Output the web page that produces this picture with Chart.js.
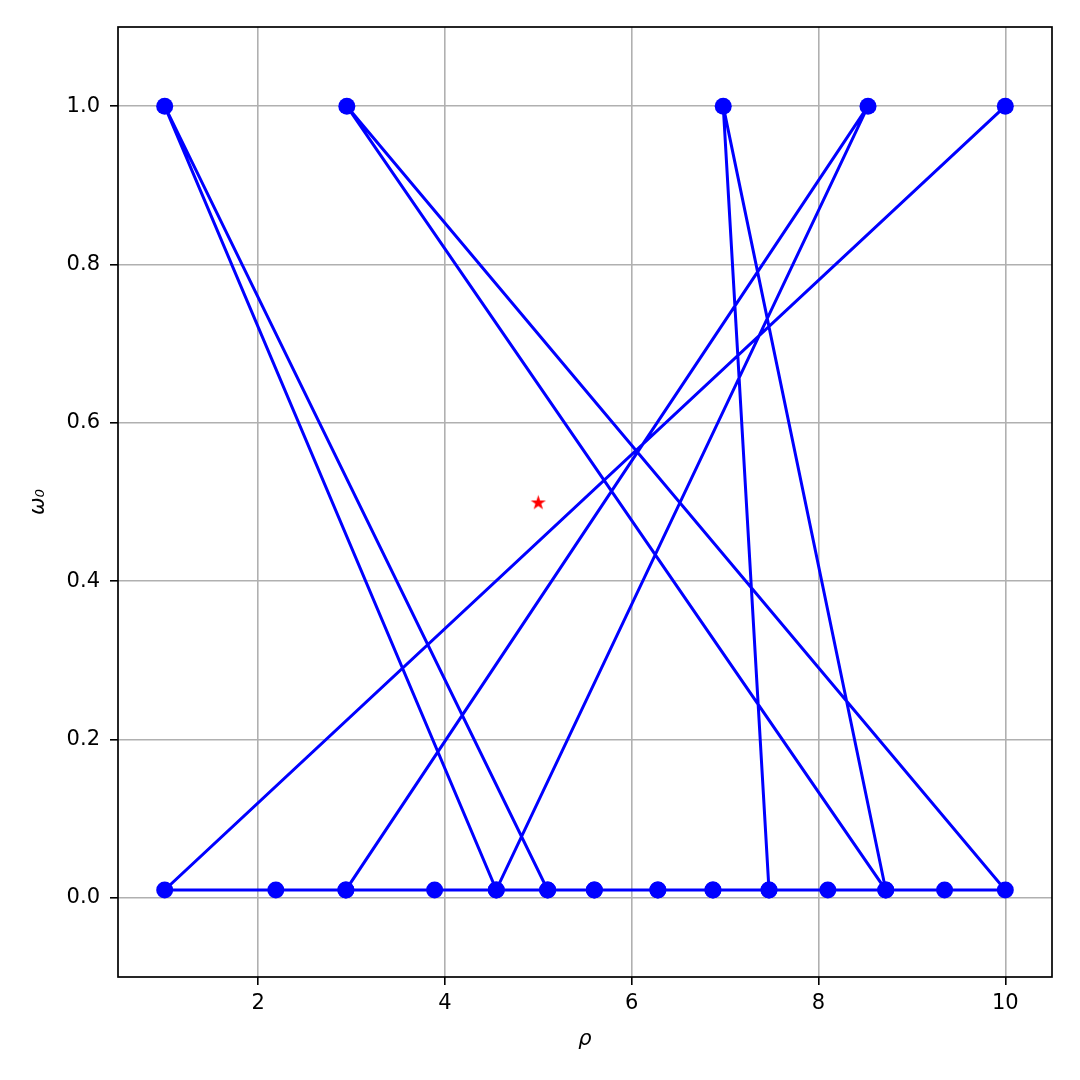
<!DOCTYPE html>
<html>
<head>
<meta charset="utf-8">
<title>rho omega path</title>
<script src="https://cdn.jsdelivr.net/npm/chart.js@4.4.1/dist/chart.umd.min.js"></script>
<style>
  body { margin: 0; background: #fff; }
  #wrap { width: 1080px; height: 1080px; }
</style>
</head>
<body>
<div id="wrap"><canvas id="pathChart" width="1080" height="1080"></canvas></div>
<script>
// visited points in the order the line runs through them
const rhoPath = [10, 1, 2.19, 2.94, 8.53, 4.55, 1, 5.1, 5.6, 6.28, 6.87, 7.47, 6.98, 8.72, 2.95, 10,
  9.35, 8.72, 8.1, 7.47, 6.87, 6.28, 5.6, 5.1, 4.55, 3.89, 2.94]
const omegaPath = [1, 0.01, 0.01, 0.01, 1, 0.01, 1, 0.01, 0.01, 0.01, 0.01, 0.01, 1, 0.01, 1, 0.01,
  0.01, 0.01, 0.01, 0.01, 0.01, 0.01, 0.01, 0.01, 0.01, 0.01, 0.01]

// red star
const starRho = [5]
const starOmega = [0.5]

const xTickValues = [2, 4, 6, 8, 10]
const yTickValues = [0, 0.2, 0.4, 0.6, 0.8, 1.0]

// matplotlib style filled star marker
function makeStar(size, color) {
  const c = document.createElement('canvas');
  c.width = size;
  c.height = size;
  const g = c.getContext('2d');
  const R = size / 2 - 0.5;
  const r = R * 0.382;
  g.beginPath();
  for (let i = 0; i < 10; i++) {
    const rad = i % 2 === 0 ? R : r;
    const a = -Math.PI / 2 + i * Math.PI / 5;
    const px = size / 2 + rad * Math.cos(a);
    const py = size / 2 + 0.9 + rad * Math.sin(a);
    if (i === 0) g.moveTo(px, py); else g.lineTo(px, py);
  }
  g.closePath();
  g.fillStyle = color;
  g.fill();
  return c;
}

const frame = {
  id: 'frame',
  afterDraw(chart) {
    const a = chart.chartArea;
    const ctx = chart.ctx;
    ctx.save();
    ctx.strokeStyle = '#000';
    ctx.lineWidth = 1.7;
    ctx.strokeRect(a.left, a.top, a.right - a.left, a.bottom - a.top);
    ctx.restore();
  }
};

const tickFont = { family: 'DejaVu Sans', size: 21 };

const el = document.getElementById('pathChart');
new Chart(el, {
  type: 'scatter',
  data: {
    datasets: [{
      data: rhoPath.map((x, i) => ({ x: x, y: omegaPath[i] })),
      showLine: true,
      borderColor: '#0000ff',
      backgroundColor: '#0000ff',
      borderWidth: 3,
      pointRadius: 8.5,
      pointHoverRadius: 8.5,
      pointBorderWidth: 0
    }, {
      data: starRho.map((x, i) => ({ x: x, y: starOmega[i] })),
      showLine: false,
      pointStyle: makeStar(17, '#ff0000'),
      pointRadius: 8
    }]
  },
  options: {
    responsive: false,
    animation: false,
    events: [],
    layout: { autoPadding: false, padding: { top: 27, right: 28, left: 0, bottom: 0 } },
    plugins: { legend: { display: false }, tooltip: { enabled: false } },
    scales: {
      x: {
        type: 'linear',
        min: 0.5,
        max: 10.5,
        afterBuildTicks: s => { s.ticks = xTickValues.map(v => ({ value: v })) },
        afterFit: s => { s.height = 103 },
        border: { display: false },
        grid: { color: '#b0b0b0', lineWidth: 1.6, tickColor: '#000', tickWidth: 1.6, tickLength: 8 },
        ticks: { color: '#000', font: tickFont, padding: 6, maxRotation: 0, callback: v => String(v) },
        title: { display: true, text: 'ρ', color: '#000', font: { family: 'DejaVu Sans', size: 21, style: 'italic' }, padding: { top: 0, bottom: 28 } }
      },
      y: {
        type: 'linear',
        min: -0.1,
        max: 1.1,
        afterBuildTicks: s => { s.ticks = yTickValues.map(v => ({ value: v })) },
        afterFit: s => { s.width = 118 },
        border: { display: false },
        grid: { color: '#b0b0b0', lineWidth: 1.6, tickColor: '#000', tickWidth: 1.6, tickLength: 8 },
        ticks: { color: '#000', font: tickFont, padding: 10, callback: v => v.toFixed(1) },
        title: { display: true, text: 'ω₀', color: '#000', font: { family: 'DejaVu Sans', size: 21, style: 'italic' }, padding: { top: 26, bottom: 0 } }
      }
    }
  },
  plugins: [frame]
});
</script>
</body>
</html>
